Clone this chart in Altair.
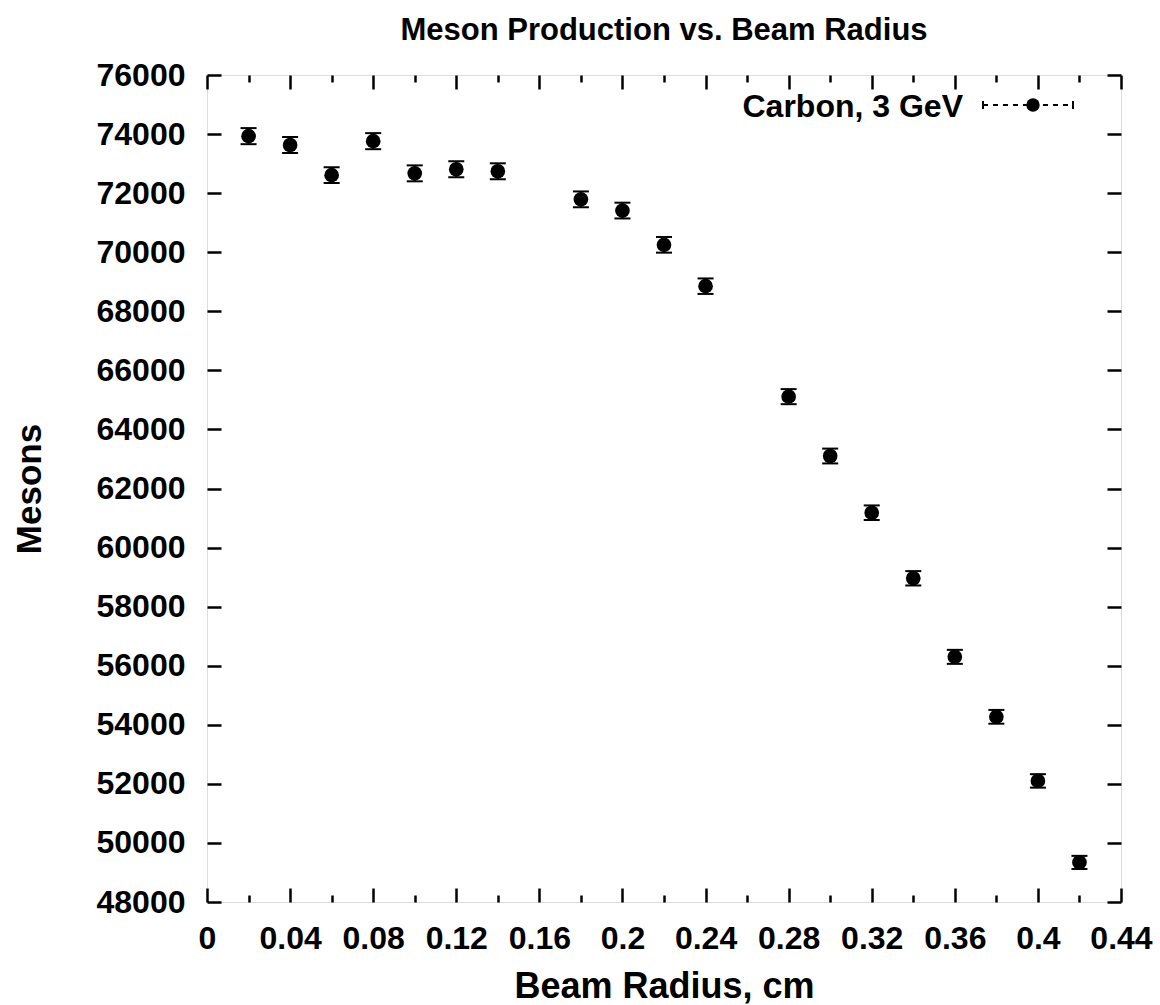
import altair as alt
import pandas as pd

# ---- data ----
radius = [0.02, 0.04, 0.06, 0.08, 0.10, 0.12, 0.14, 0.18, 0.20, 0.22,
          0.24, 0.28, 0.30, 0.32, 0.34, 0.36, 0.38, 0.40, 0.42]
mesons = [73930, 73630, 72610, 73760, 72670, 72810, 72740, 71790, 71410, 70250,
          68850, 65110, 63100, 61180, 58960, 56300, 54270, 52100, 49340]
errors = [272, 271, 269, 272, 270, 270, 270, 268, 267, 265,
          262, 255, 251, 247, 243, 237, 233, 228, 222]

x_major = [0, 0.04, 0.08, 0.12, 0.16, 0.2, 0.24, 0.28, 0.32, 0.36, 0.4, 0.44]
x_minor = [0.02, 0.06, 0.1, 0.14, 0.18, 0.22, 0.26, 0.3, 0.34, 0.38, 0.42]
y_major = [48000, 50000, 52000, 54000, 56000, 58000, 60000, 62000,
           64000, 66000, 68000, 70000, 72000, 74000, 76000]

series_label = ["Carbon, 3 GeV"]
chart_title = ["Meson Production vs. Beam Radius"]
x_title = "Beam Radius, cm"
y_title = "Mesons"

df = pd.DataFrame({"radius": radius, "mesons": mesons, "err": errors})
df["lo"] = df["mesons"] - df["err"]
df["hi"] = df["mesons"] + df["err"]

FONT = "Liberation Sans"
W, H = 914, 827
MAJ, MIN = 14, 7

xscale = alt.Scale(domain=[0, 0.44], nice=False, zero=False)
yscale = alt.Scale(domain=[48000, 76000], nice=False, zero=False)


def tick_axis(orient, values, size, **kw):
    base = dict(orient=orient, values=values, tickSize=size, offset=-size,
                domain=False, grid=False, labels=False, title=None,
                tickColor="black", tickWidth=2.5)
    base.update(kw)
    return alt.Axis(**base)


base = alt.Chart(df)

points = base.mark_point(filled=True, shape="circle", size=215, color="black",
                         opacity=1).encode(
    x=alt.X("radius:Q", scale=xscale,
            axis=tick_axis("bottom", x_major, MAJ, labels=True, format="~g",
                           labelFont=FONT, labelFontSize=32, labelColor="black",
                           labelFontWeight="bold",
                           labelPadding=21, labelFlush=False, labelOverlap=False,
                           title=x_title, titleFont=FONT, titleFontSize=36,
                           titleFontWeight="bold", titleColor="black",
                           titleX=457, titleY=109, titleAlign="center",
                           titleBaseline="alphabetic")),
    y=alt.Y("mesons:Q", scale=yscale,
            axis=tick_axis("left", y_major, MAJ, labels=True, format="d",
                           labelFont=FONT, labelFontSize=32, labelColor="black",
                           labelFontWeight="bold",
                           labelPadding=22, labelFlush=False, labelOverlap=False,
                           title=y_title, titleFont=FONT, titleFontSize=35,
                           titleFontWeight="bold", titleColor="black",
                           titleX=-181, titleY=413.5, titleAngle=270,
                           titleAlign="center", titleBaseline="alphabetic")),
)

bars = base.mark_rule(color="black", strokeWidth=2).encode(
    x=alt.X("radius:Q", scale=xscale, axis=tick_axis("top", x_major, MAJ)),
    y=alt.Y("lo:Q", scale=yscale, axis=tick_axis("right", y_major, MAJ)),
    y2="hi:Q",
)

caps_lo = base.mark_tick(orient="horizontal", size=16, thickness=2,
                         color="black", opacity=1).encode(
    x=alt.X("radius:Q", scale=xscale, axis=tick_axis("bottom", x_minor, MIN)),
    y=alt.Y("lo:Q", scale=yscale, axis=None),
)

caps_hi = base.mark_tick(orient="horizontal", size=16, thickness=2,
                         color="black", opacity=1).encode(
    x=alt.X("radius:Q", scale=xscale, axis=tick_axis("top", x_minor, MIN)),
    y=alt.Y("hi:Q", scale=yscale, axis=None),
)

# ---- chart title ----
title_mark = alt.Chart(pd.DataFrame({"t": chart_title})).mark_text(
    align="center", baseline="alphabetic", font=FONT, fontSize=31,
    fontWeight="bold", color="black").encode(
    text="t:N", x=alt.value(457), y=alt.value(-35))

# ---- legend (key) ----
leg_df = pd.DataFrame({"label": series_label})
leg = alt.Chart(leg_df)
leg_text = leg.mark_text(align="right", baseline="alphabetic", font=FONT,
                         fontSize=32, fontWeight="bold", color="black").encode(
    text="label:N", x=alt.value(756), y=alt.value(42))
leg_line = leg.mark_rule(color="black", strokeWidth=2,
                         strokeDash=[5, 5]).encode(
    x=alt.value(776), x2=alt.value(866), y=alt.value(30))
leg_cap1 = leg.mark_rule(color="black", strokeWidth=2).encode(
    x=alt.value(776), y=alt.value(26), y2=alt.value(34))
leg_cap2 = leg.mark_rule(color="black", strokeWidth=2).encode(
    x=alt.value(866), y=alt.value(26), y2=alt.value(34))
leg_dot = leg.mark_point(filled=True, shape="circle", size=180, color="black",
                         opacity=1).encode(x=alt.value(826), y=alt.value(30))

chart = alt.layer(
    bars, caps_lo, caps_hi, points,
    leg_line, leg_cap1, leg_cap2, leg_dot, leg_text, title_mark,
).resolve_axis(
    x="independent", y="independent"
).properties(
    width=W, height=H,
    autosize=alt.AutoSizeParams(type="none"),
    padding={"left": 207, "top": 75, "right": 39, "bottom": 103},
).configure_view(
    stroke="black", strokeWidth=3
).configure(background="white")

chart.save("out.html", embed_options={"renderer": "svg", "actions": False})
